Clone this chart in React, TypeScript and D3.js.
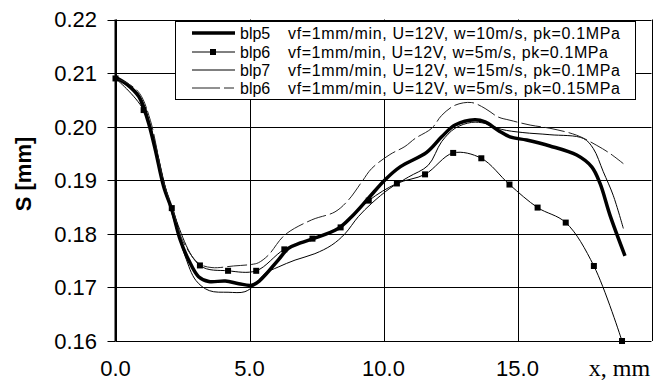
import React from "react";
import * as d3 from "d3";

type P = [number, number];

const xTicks = [0, 5, 10, 15];
const xTickLabels = ["0.0", "5.0", "10.0", "15.0"];
const yTicks = [0.16, 0.17, 0.18, 0.19, 0.2, 0.21, 0.22];
const xAxisTitle = "x, mm";
const yAxisTitle = "S [mm]";

const seriesNames = ["blp5", "blp6", "blp7", "blp6"];
const seriesDescs = [
  "vf=1mm/min, U=12V, w=10m/s, pk=0.1MPa",
  "vf=1mm/min, U=12V, w=5m/s, pk=0.1MPa",
  "vf=1mm/min, U=12V, w=15m/s, pk=0.1MPa",
  "vf=1mm/min, U=12V, w=5m/s, pk=0.15MPa",
];

const blp5: P[] = [
  [0, 0.2092], [0.45, 0.2078], [0.87, 0.2056], [1.05, 0.2035], [1.24, 0.2006],
  [1.49, 0.1956], [1.8, 0.1888], [2.11, 0.1844], [2.42, 0.1788], [2.73, 0.1751],
  [3.1, 0.172], [3.48, 0.1711], [4.1, 0.1712], [4.6, 0.1707], [5.09, 0.1704],
  [5.39, 0.1713], [6.07, 0.1751], [6.45, 0.1773], [6.9, 0.1783], [7.38, 0.1791],
  [8.31, 0.181], [8.81, 0.1832], [9.43, 0.1866], [10.06, 0.1901], [10.62, 0.1925],
  [11.61, 0.1952], [12.17, 0.1981], [12.67, 0.2003], [13.41, 0.2013], [13.79, 0.2009],
  [14.28, 0.1993], [14.72, 0.1981], [15.34, 0.1975], [16.21, 0.1964], [17.21, 0.1947],
  [17.77, 0.1925], [18.08, 0.1894], [18.45, 0.1835], [19.01, 0.1759],
];

const blp6: P[] = [
  [0, 0.209], [1.05, 0.2031], [2.1, 0.1848], [3.15, 0.1741], [4.2, 0.1731],
  [5.25, 0.1731], [6.3, 0.1771], [7.35, 0.1791], [8.4, 0.1812], [9.45, 0.1862],
  [10.5, 0.1894], [11.55, 0.1911], [12.6, 0.1951], [13.65, 0.1941], [14.7, 0.1892],
  [15.75, 0.1849], [16.8, 0.1821], [17.85, 0.174], [18.9, 0.16],
];

const blp7: P[] = [
  [0, 0.209], [0.45, 0.2079], [0.9, 0.2058], [1.3, 0.2003], [1.8, 0.1892],
  [2.2, 0.1822], [2.6, 0.1758], [3.0, 0.1713], [3.5, 0.1694], [4.2, 0.1691],
  [4.83, 0.1692], [5.2, 0.1705], [5.58, 0.1726], [6.07, 0.1738], [6.7, 0.1751],
  [7.44, 0.1763], [8.07, 0.1779], [8.56, 0.18], [9.06, 0.1832], [9.56, 0.1857],
  [10.24, 0.1885], [10.93, 0.1906], [11.67, 0.1928], [12.17, 0.1972], [12.67, 0.1997],
  [13.29, 0.2008], [13.8, 0.2006], [14.4, 0.1995], [15.2, 0.1989], [16.21, 0.1985],
  [17.46, 0.1978], [17.83, 0.1959], [18.2, 0.1916], [18.57, 0.1872], [18.95, 0.181],
];

const blp6b: P[] = [
  [0, 0.209], [0.45, 0.2081], [0.9, 0.2062], [1.3, 0.2012], [1.8, 0.1897],
  [2.2, 0.1836], [2.5, 0.1788], [3.1, 0.1745], [3.6, 0.1737], [4.4, 0.174],
  [5.09, 0.1743], [5.33, 0.1746], [5.7, 0.176], [6.32, 0.1798], [7.32, 0.1826],
  [8.19, 0.1841], [8.69, 0.1863], [9.19, 0.1897], [9.56, 0.1922], [10.24, 0.1948],
  [10.8, 0.1963], [11.18, 0.1978], [11.8, 0.1997], [12.17, 0.2021], [12.67, 0.204],
  [13.29, 0.2045], [13.79, 0.2034], [14.28, 0.2018], [14.72, 0.2012], [15.47, 0.2003],
  [16.21, 0.1997], [17.21, 0.1984], [17.96, 0.1965], [18.45, 0.195], [18.95, 0.1931],
];

const W = 657;
const H = 384;
const left = 115.5;
const right = 651.5;
const top = 19.5;
const bottom = 341;

export default function App() {
  const x = d3.scaleLinear().domain([0, 20]).range([left, right]);
  const y = d3.scaleLinear().domain([0.16, 0.22]).range([bottom, top]);
  const line = d3
    .line<P>()
    .x((d) => x(d[0]))
    .y((d) => y(d[1]))
    .curve(d3.curveCatmullRom.alpha(0.5));

  const styles = [
    { data: blp5, width: 3.5, color: "#000", dash: undefined as string | undefined, marker: false },
    { data: blp6, width: 1, color: "#000", dash: undefined, marker: true },
    { data: blp7, width: 1, color: "#000", dash: undefined, marker: false },
    { data: blp6b, width: 1, color: "#222", dash: "20,4", marker: false },
  ];

  const legX = 175.5;
  const legY = 21.5;
  const legW = 460;
  const legH = 78;
  const rowY = [33, 52, 70, 88];
  const descWidths = [332, 320, 332, 332];

  return (
    <svg
      width={W}
      height={H}
      style={{ position: "absolute", left: 0, top: 0, background: "#fff" }}
      fontFamily="Arial, 'Liberation Sans', sans-serif"
    >
      {/* grid */}
      {yTicks.map((t) => (
        <line key={"gy" + t} x1={left} x2={right} y1={Math.round(y(t)) + 0.5} y2={Math.round(y(t)) + 0.5} stroke="#000" strokeWidth={1} />
      ))}
      {[...xTicks, 20].map((t) => (
        <line key={"gx" + t} x1={Math.round(x(t)) + 0.5} x2={Math.round(x(t)) + 0.5} y1={top} y2={bottom} stroke="#000" strokeWidth={1} />
      ))}
      {/* y axis */}
      <line x1={left} x2={left} y1={top} y2={bottom} stroke="#000" strokeWidth={2} />
      {yTicks.map((t) => (
        <line key={"ty" + t} x1={left - 8} x2={left} y1={Math.round(y(t)) + 0.5} y2={Math.round(y(t)) + 0.5} stroke="#000" strokeWidth={1} />
      ))}
      {yTicks.map((t) => (
        <text key={"ly" + t} x={97} y={y(t)} dy="0.36em" textAnchor="end" fontSize={22} fill="#000">
          {t.toFixed(2)}
        </text>
      ))}
      {xTicks.map((t, i) => (
        <text key={"lx" + t} x={x(t)} y={376} textAnchor="middle" fontSize={22} fill="#000">
          {xTickLabels[i]}
        </text>
      ))}
      <text x={x(20) - 32} y={376} textAnchor="middle" fontSize={24} fontFamily="'Liberation Serif', 'Times New Roman', serif" fill="#000">
        {xAxisTitle}
      </text>
      <text
        transform={`translate(31,174) rotate(-90)`}
        textAnchor="middle"
        fontSize={22}
        fontWeight="bold"
        fill="#000"
      >
        {yAxisTitle}
      </text>

      {/* series */}
      {styles.map((s, i) => (
        <path key={"s" + i} d={line(s.data) || ""} fill="none" stroke={s.color} strokeWidth={s.width} strokeDasharray={s.dash} strokeLinejoin="round" />
      ))}
      {blp6.map((d, i) => (
        <rect key={"m" + i} x={x(d[0]) - 3} y={y(d[1]) - 3} width={6} height={6} fill="#000" />
      ))}

      {/* legend */}
      <rect x={legX} y={legY} width={legW} height={legH} fill="#fff" stroke="#000" strokeWidth={1} />
      {styles.map((s, i) => (
        <g key={"lg" + i}>
          <line x1={192} x2={235} y1={rowY[i]} y2={rowY[i]} stroke={s.color} strokeWidth={s.width} strokeDasharray={s.dash ? "28,4,10" : undefined} />
          {s.marker && <rect x={210} y={rowY[i] - 3} width={6} height={6} fill="#000" />}
          <text x={240} y={rowY[i]} dy="0.36em" fontSize={16} fill="#000">
            {seriesNames[i]}
          </text>
          <text x={288} y={rowY[i]} dy="0.36em" fontSize={16} fill="#000" textLength={descWidths[i]} lengthAdjust="spacing">
            {seriesDescs[i]}
          </text>
        </g>
      ))}
    </svg>
  );
}
